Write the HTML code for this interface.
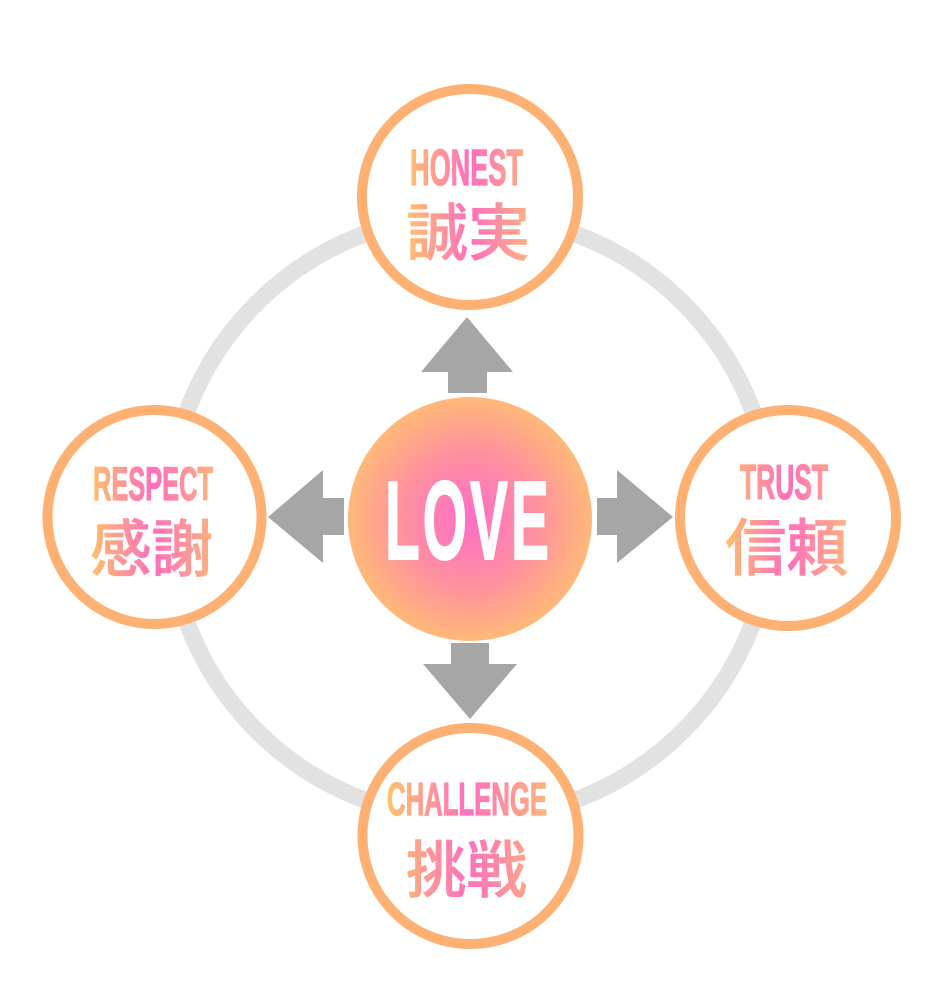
<!DOCTYPE html>
<html>
<head>
<meta charset="utf-8">
<style>
html,body{margin:0;padding:0;background:#fff;}
body{width:932px;height:1005px;overflow:hidden;}
svg{display:block;}
.en{font-family:"Liberation Sans Narrow","Liberation Sans",sans-serif;font-weight:bold;}
.jp{font-family:"Liberation Sans","Noto Sans CJK JP",sans-serif;font-weight:500;}
</style>
</head>
<body>
<svg width="932" height="1005" viewBox="0 0 932 1005" xmlns="http://www.w3.org/2000/svg">
<defs>
<radialGradient id="love" cx="50%" cy="50%" r="50%">
<stop offset="0" stop-color="#ff6ec8"/>
<stop offset="0.55" stop-color="#ff909f"/>
<stop offset="1" stop-color="#ffb978"/>
</radialGradient>
<linearGradient id="gT" gradientUnits="userSpaceOnUse" x1="405" y1="0" x2="535" y2="0">
<stop offset="0" stop-color="#ffc46a"/><stop offset="0.5" stop-color="#ff6fbe"/><stop offset="1" stop-color="#ffb878"/>
</linearGradient>
<linearGradient id="gL" gradientUnits="userSpaceOnUse" x1="88" y1="0" x2="218" y2="0">
<stop offset="0" stop-color="#ffc46a"/><stop offset="0.5" stop-color="#ff6fbe"/><stop offset="1" stop-color="#ffb878"/>
</linearGradient>
<linearGradient id="gR" gradientUnits="userSpaceOnUse" x1="722" y1="0" x2="852" y2="0">
<stop offset="0" stop-color="#ffc46a"/><stop offset="0.5" stop-color="#ff6fbe"/><stop offset="1" stop-color="#ffb878"/>
</linearGradient>
<linearGradient id="gB" gradientUnits="userSpaceOnUse" x1="386" y1="0" x2="550" y2="0">
<stop offset="0" stop-color="#ffc46a"/><stop offset="0.5" stop-color="#ff6fbe"/><stop offset="1" stop-color="#ffb878"/>
</linearGradient>
</defs>

<!-- big gray ring -->
<circle cx="470" cy="517" r="302" fill="none" stroke="#e2e2e2" stroke-width="17"/>

<!-- arrows -->
<polygon fill="#a6a6a6" points="467,317 513,372 487,372 487,393 448,393 448,372 421,372"/>
<polygon fill="#a6a6a6" points="470,719 517,664 489,664 489,643 451,643 451,664 423,664"/>
<polygon fill="#a6a6a6" points="268,517 323,470 323,498 344,498 344,535 323,535 323,563"/>
<polygon fill="#a6a6a6" points="673,517 617,470 617,498 597,498 597,535 617,535 617,563"/>

<!-- center LOVE -->
<circle cx="470" cy="519" r="122" fill="url(#love)"/>
<text class="en" x="385" y="559" font-size="111" fill="#fff" stroke="#fff" stroke-width="2" textLength="167" lengthAdjust="spacingAndGlyphs" letter-spacing="6">LOVE</text>

<!-- top -->
<circle cx="470" cy="197" r="108" fill="#fff" stroke="#ffb173" stroke-width="10"/>
<text class="en" x="410" y="185" font-size="51" fill="url(#gT)" stroke="url(#gT)" stroke-width="1.2" textLength="113" lengthAdjust="spacingAndGlyphs">HONEST</text>
<text class="jp" x="406" y="255" font-size="62" fill="url(#gT)" stroke="url(#gT)" stroke-width="0.6" textLength="124" lengthAdjust="spacingAndGlyphs">誠実</text>

<!-- left -->
<circle cx="154.5" cy="517" r="107" fill="#fff" stroke="#ffb173" stroke-width="10"/>
<text class="en" x="93" y="500" font-size="47" fill="url(#gL)" stroke="url(#gL)" stroke-width="1.2" textLength="120" lengthAdjust="spacingAndGlyphs">RESPECT</text>
<text class="jp" x="90" y="571" font-size="62" fill="url(#gL)" stroke="url(#gL)" stroke-width="0.6" textLength="123" lengthAdjust="spacingAndGlyphs">感謝</text>

<!-- right -->
<circle cx="788" cy="518" r="108" fill="#fff" stroke="#ffb173" stroke-width="10"/>
<text class="en" x="740" y="499" font-size="49" fill="url(#gR)" stroke="url(#gR)" stroke-width="1.2" textLength="88" lengthAdjust="spacingAndGlyphs">TRUST</text>
<text class="jp" x="725" y="570" font-size="62" fill="url(#gR)" stroke="url(#gR)" stroke-width="0.6" textLength="123" lengthAdjust="spacingAndGlyphs">信頼</text>

<!-- bottom -->
<circle cx="470.5" cy="836" r="108" fill="#fff" stroke="#ffb173" stroke-width="10"/>
<text class="en" x="387" y="815" font-size="46" fill="url(#gB)" stroke="url(#gB)" stroke-width="1.2" textLength="160" lengthAdjust="spacingAndGlyphs">CHALLENGE</text>
<text class="jp" x="406" y="892" font-size="62" fill="url(#gB)" stroke="url(#gB)" stroke-width="0.6" textLength="121" lengthAdjust="spacingAndGlyphs">挑戦</text>
</svg>
</body>
</html>
